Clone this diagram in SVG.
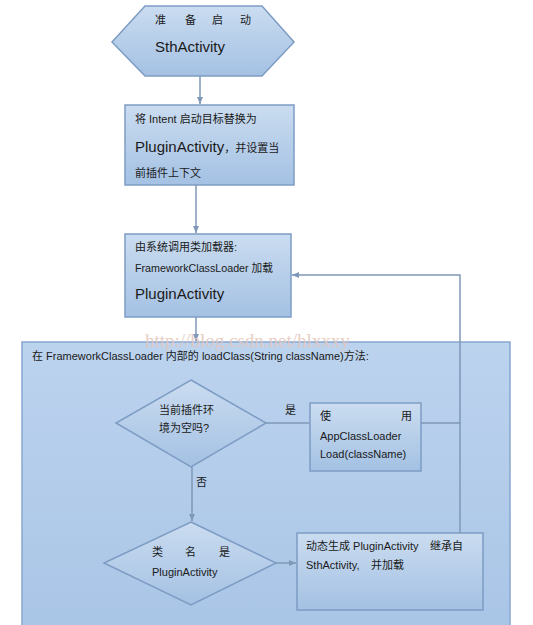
<svg xmlns="http://www.w3.org/2000/svg" width="533" height="625" viewBox="0 0 533 625">
<defs>
<linearGradient id="g" x1="0" y1="0" x2="0" y2="1">
<stop offset="0" stop-color="#cadcf0"/>
<stop offset="1" stop-color="#a4c1e3"/>
</linearGradient>
<linearGradient id="gc" x1="0" y1="0" x2="0" y2="1">
<stop offset="0" stop-color="#bcd3ee"/>
<stop offset="1" stop-color="#a9c5e6"/>
</linearGradient>
<marker id="a" markerWidth="8" markerHeight="8" refX="7" refY="4" orient="auto" markerUnits="userSpaceOnUse">
<path d="M0,1 L7,4 L0,7 Z" fill="#7f98b8"/>
</marker>
<style>
.n{fill:url(#g);stroke:#7d9cc4;stroke-width:1.5}
.c{fill:url(#gc);stroke:#88a6d0;stroke-width:1.5}
.l{fill:none;stroke:#7f98b8;stroke-width:1.5}
text{font-family:"Liberation Sans","Noto Sans CJK SC",sans-serif;fill:#1a1a1a;font-size:11px}
.b{font-size:15px}
.w{font-family:"Liberation Serif",serif;font-size:19px;fill:#e3c6bd;opacity:0.85}
</style>
</defs>
<g id="start">
<polygon class="n" points="145,6 262,6 294,42 262,76 145,76 112,42"/>
<text y="24"><tspan x="155">准</tspan><tspan x="185">备</tspan><tspan x="212">启</tspan><tspan x="240">动</tspan></text>
<text class="b" x="155" y="52">SthActivity</text>
</g>
<g id="replace">
<rect class="n" x="125" y="105" width="169" height="80"/>
<text x="135" y="123">将 Intent 启动目标替换为</text>
<text x="135" y="152"><tspan class="b">PluginActivity</tspan>，并设置当</text>
<text x="135" y="177">前插件上下文</text>
</g>
<g id="load">
<rect class="n" x="125" y="234" width="166" height="83"/>
<text x="135" y="251">由系统调用类加载器:</text>
<text x="135" y="272" textLength="138" lengthAdjust="spacingAndGlyphs">FrameworkClassLoader 加载</text>
<text class="b" x="135" y="299">PluginActivity</text>
</g>
<g id="container">
<rect class="c" x="22" y="342" width="488" height="290"/>
<text x="32" y="360">在 FrameworkClassLoader 内部的 loadClass(String className)方法:</text>
</g>
<g id="decision1">
<polygon class="n" points="191,380 266,423 191,467 116,423"/>
<text x="159" y="414">当前插件环</text>
<text x="159" y="432">境为空吗?</text>
</g>
<g id="appclassloader">
<rect class="n" x="310" y="403" width="111" height="68"/>
<text y="420"><tspan x="320">使</tspan><tspan x="401">用</tspan></text>
<text x="320" y="440">AppClassLoader</text>
<text x="320" y="458">Load(className)</text>
</g>
<g id="decision2">
<polygon class="n" points="191,522 276,563 191,605 104,563"/>
<text y="556"><tspan x="152">类</tspan><tspan x="185">名</tspan><tspan x="219">是</tspan></text>
<text x="152" y="576">PluginActivity</text>
</g>
<g id="generate">
<rect class="n" x="297" y="533" width="186" height="77"/>
<text y="550"><tspan x="306">动态生成 PluginActivity</tspan><tspan x="430">继承自</tspan></text>
<text y="569"><tspan x="306">SthActivity,</tspan><tspan x="371">并加载</tspan></text>
</g>
<g id="connectors">
<line class="l" x1="200" y1="76" x2="200" y2="104" marker-end="url(#a)"/>
<line class="l" x1="196" y1="185" x2="196" y2="233" marker-end="url(#a)"/>
<line class="l" x1="196" y1="317" x2="196" y2="341" marker-end="url(#a)"/>
<line class="l" x1="266" y1="423" x2="309" y2="423"/>
<polyline class="l" points="421,423 460,423 460,275 292,275" marker-end="url(#a)"/>
<line class="l" x1="460" y1="423" x2="460" y2="533"/>
<line class="l" x1="192" y1="467" x2="192" y2="521" marker-end="url(#a)"/>
<line class="l" x1="276" y1="563" x2="296" y2="563" marker-end="url(#a)"/>
<text x="285" y="414">是</text>
<text x="196" y="486">否</text>
</g>
<text class="w" x="145" y="347">http://blog.csdn.net/hlxxxy</text>
</svg>
